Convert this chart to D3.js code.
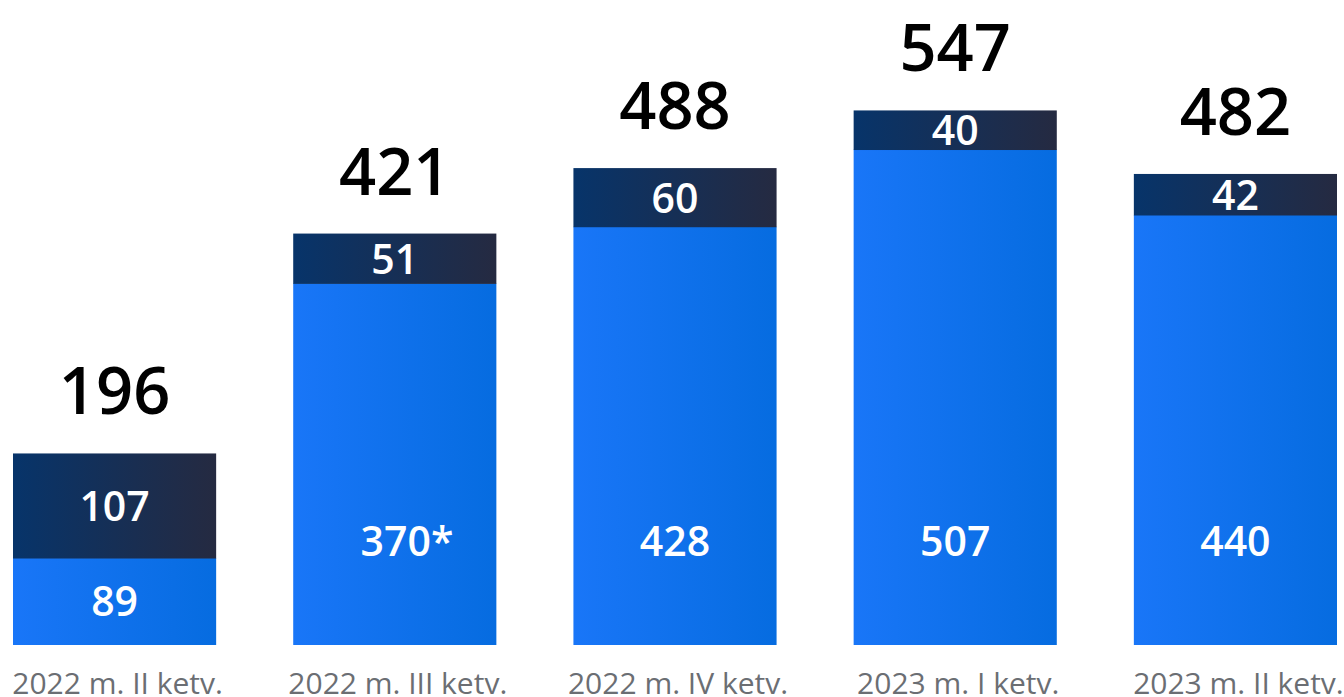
<!DOCTYPE html>
<html>
<head>
<meta charset="utf-8">
<script src="https://cdn.jsdelivr.net/npm/d3@7"></script>
<style>
  html, body { margin: 0; padding: 0; background: #fff; overflow: hidden; }
  svg { display: block; font-family: "Open Sans", "Noto Sans", sans-serif; }
</style>
</head>
<body>
<div id="chart"></div>
<script>
// Data
var categories = ["2022 m. II ketv.", "2022 m. III ketv.", "2022 m. IV ketv.", "2023 m. I ketv.", "2023 m. II ketv."];
var lowerValues = [89, 370, 428, 507, 440];
var upperValues = [107, 51, 60, 40, 42];
var totals = [196, 421, 488, 547, 482];
var lowerNotes = ["", "*", "", "", ""];

var width = 1344, height = 697;
var margin = {left: 13, right: 7, bottom: 52, top: 0};
var baseY = height - margin.bottom;

var svg = d3.select("#chart").append("svg")
    .attr("width", width)
    .attr("height", height);

// Gradients
var defs = svg.append("defs");
var gLow = defs.append("linearGradient").attr("id", "gradLow")
    .attr("x1", "0%").attr("x2", "100%").attr("y1", "0%").attr("y2", "0%");
gLow.append("stop").attr("offset", "0%").attr("stop-color", "#1976f8");
gLow.append("stop").attr("offset", "100%").attr("stop-color", "#066ce0");
var gUp = defs.append("linearGradient").attr("id", "gradUp")
    .attr("x1", "0%").attr("x2", "100%").attr("y1", "0%").attr("y2", "0%");
gUp.append("stop").attr("offset", "0%").attr("stop-color", "#07346a");
gUp.append("stop").attr("offset", "100%").attr("stop-color", "#252a41");

// Scales
var x = d3.scaleBand()
    .domain(categories)
    .range([margin.left, width - margin.right])
    .paddingInner(77 / 280)
    .paddingOuter(0);

var y = d3.scaleLinear()
    .domain([0, 660])
    .range([baseY, 0]);

var bw = x.bandwidth();

var bars = svg.selectAll(".bar")
    .data(categories)
    .enter().append("g")
    .attr("class", "bar")
    .attr("transform", function(d) { return "translate(" + x(d) + ",0)"; });

// lower segment
bars.append("rect")
    .attr("x", 0)
    .attr("width", bw)
    .attr("y", function(d, i) { return y(lowerValues[i]); })
    .attr("height", function(d, i) { return baseY - y(lowerValues[i]); })
    .style("fill", "url(#gradLow)");

// upper segment
bars.append("rect")
    .attr("x", 0)
    .attr("width", bw)
    .attr("y", function(d, i) { return y(lowerValues[i] + upperValues[i]); })
    .attr("height", function(d, i) { return y(lowerValues[i]) - y(lowerValues[i] + upperValues[i]) + 0.5; })
    .style("fill", "url(#gradUp)");

// lower labels
bars.append("text")
    .attr("class", "low-label")
    .attr("x", bw / 2)
    .attr("y", function(d, i) {
        var mid = (y(lowerValues[i]) + baseY) / 2;
        return Math.max(mid, y(106));
    })
    .attr("dy", ".36em")
    .attr("text-anchor", "middle")
    .style("fill", "#fff")
    .style("font-size", "41px")
    .style("font-weight", 600)
    .text(function(d, i) { return lowerValues[i]; })
    .each(function(d, i) {
        if (!lowerNotes[i]) return;
        var w = this.getComputedTextLength();
        d3.select(this)
            .attr("text-anchor", "start")
            .attr("x", bw / 2 - w / 2 + 1)
            .text(lowerValues[i] + lowerNotes[i]);
    });

// upper labels
bars.append("text")
    .attr("x", bw / 2)
    .attr("y", function(d, i) {
        return (y(lowerValues[i]) + y(lowerValues[i] + upperValues[i])) / 2;
    })
    .attr("dy", ".37em")
    .attr("text-anchor", "middle")
    .style("fill", "#fff")
    .style("font-size", "41px")
    .style("font-weight", 600)
    .text(function(d, i) { return upperValues[i]; });

// totals
bars.append("text")
    .attr("x", bw / 2)
    .attr("y", function(d, i) { return y(totals[i]) - 39; })
    .attr("text-anchor", "middle")
    .style("fill", "#000")
    .style("font-size", "65px")
    .style("font-weight", 600)
    .text(function(d, i) { return totals[i]; });

// category labels
bars.append("text")
    .attr("x", bw / 2 + 3)
    .attr("y", baseY + 49)
    .attr("text-anchor", "middle")
    .style("fill", "#6b6e73")
    .style("font-size", "30px")
    .text(function(d) { return d; });
</script>
</body>
</html>
